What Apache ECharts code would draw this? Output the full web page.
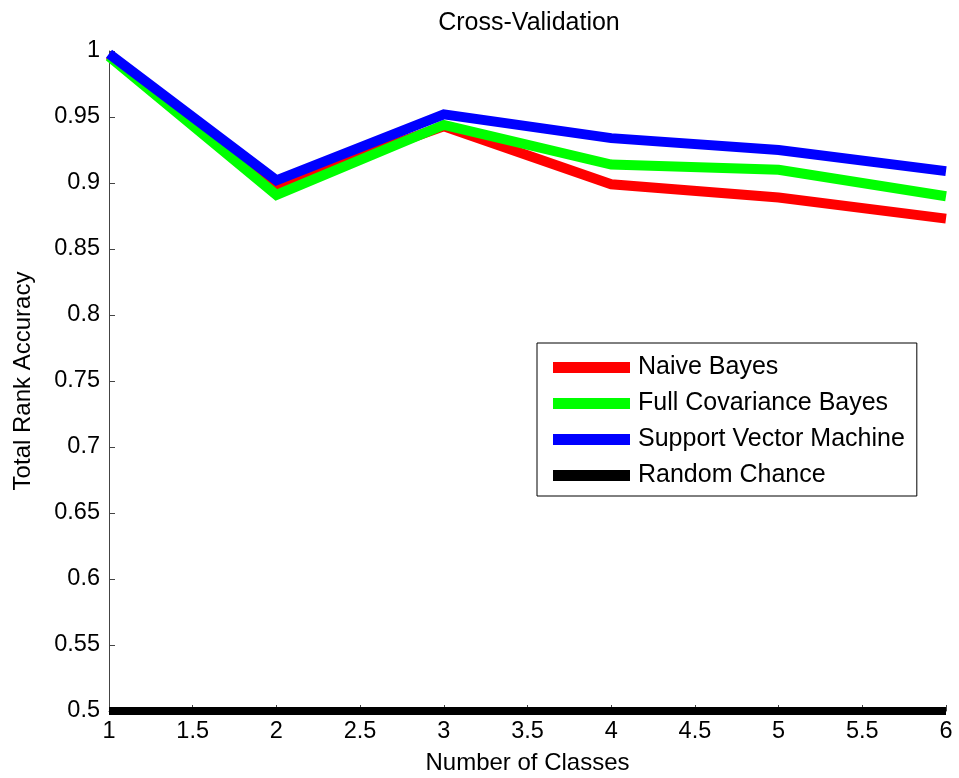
<!DOCTYPE html>
<html><head><meta charset="utf-8">
<script src="https://cdn.jsdelivr.net/npm/echarts@6/dist/echarts.min.js"></script>
<style>html,body{margin:0;padding:0;background:#fff}#c{width:959px;height:778px}</style>
</head><body><div id="c"></div>
<script>
const classes = [1, 2, 3, 4, 5, 6];
const naiveBayes = [0.997, 0.898, 0.943, 0.899, 0.889, 0.873];
const fullCovBayes = [0.996, 0.891, 0.944, 0.914, 0.910, 0.890];
const svm = [0.998, 0.902, 0.952, 0.934, 0.925, 0.909];
const randomChance = [0.5, 0.5, 0.5, 0.5, 0.5, 0.5];
const seriesNames = ['Naive Bayes', 'Full Covariance Bayes', 'Support Vector Machine', 'Random Chance'];
const seriesColors = ['#ff0000', '#00ff00', '#0000ff', '#000000'];
const seriesData = [naiveBayes, fullCovBayes, svm, randomChance];

const font = 'Liberation Sans, Arial, sans-serif';
const chart = echarts.init(document.getElementById('c'));
chart.setOption({
  animation: false,
  backgroundColor: '#fff',
  title: { text: 'Cross-Validation', left: 524, textAlign: 'center', top: 6,
    textStyle: { fontFamily: font, fontSize: 25, fontWeight: 'normal', color: '#000' } },
  grid: { left: 109, right: 13, top: 51, bottom: 67, outerBoundsMode: 'none', containLabel: false },
  legend: {
    orient: 'vertical', left: 537, top: 343,
    data: seriesNames.map(n => ({ name: n, icon: 'rect' })),
    itemWidth: 77, itemHeight: 11, itemGap: 11,
    padding: [12, 12, 8, 16],
    borderColor: '#000', borderWidth: 1, backgroundColor: '#fff',
    textStyle: { fontFamily: font, fontSize: 25, color: '#000', padding: [0, 0, 0, 3] }
  },
  xAxis: {
    type: 'value', min: 1, max: 6, interval: 0.5,
    name: 'Number of Classes', nameLocation: 'middle', nameGap: 40,
    nameTextStyle: { fontFamily: font, fontSize: 24, color: '#000' },
    axisLine: { onZero: false, lineStyle: { color: '#444', width: 1 } },
    axisTick: { inside: true, length: 6, lineStyle: { color: '#444' } },
    axisLabel: { fontFamily: font, fontSize: 23.5, color: '#000', margin: 9 },
    splitLine: { show: false }
  },
  yAxis: {
    type: 'value', min: 0.5, max: 1, interval: 0.05,
    name: 'Total Rank Accuracy', nameLocation: 'middle', nameGap: 74,
    nameTextStyle: { fontFamily: font, fontSize: 24, color: '#000' },
    axisLine: { show: true, lineStyle: { color: '#444', width: 1 } },
    axisTick: { show: true, inside: true, length: 6, lineStyle: { color: '#444' } },
    axisLabel: { fontFamily: font, fontSize: 23.5, color: '#000', margin: 9,
      formatter: v => String(parseFloat(v.toFixed(2))) },
    splitLine: { show: false }
  },
  series: seriesNames.map((n, i) => ({
    name: n, type: 'line', symbol: 'none', clip: false,
    data: classes.map((c, j) => [c, seriesData[i][j]]),
    lineStyle: { color: seriesColors[i], width: i === 3 ? 8 : 10, join: 'miter' },
    itemStyle: { color: seriesColors[i] },
    z: 2 + i
  }))
});
</script></body></html>
